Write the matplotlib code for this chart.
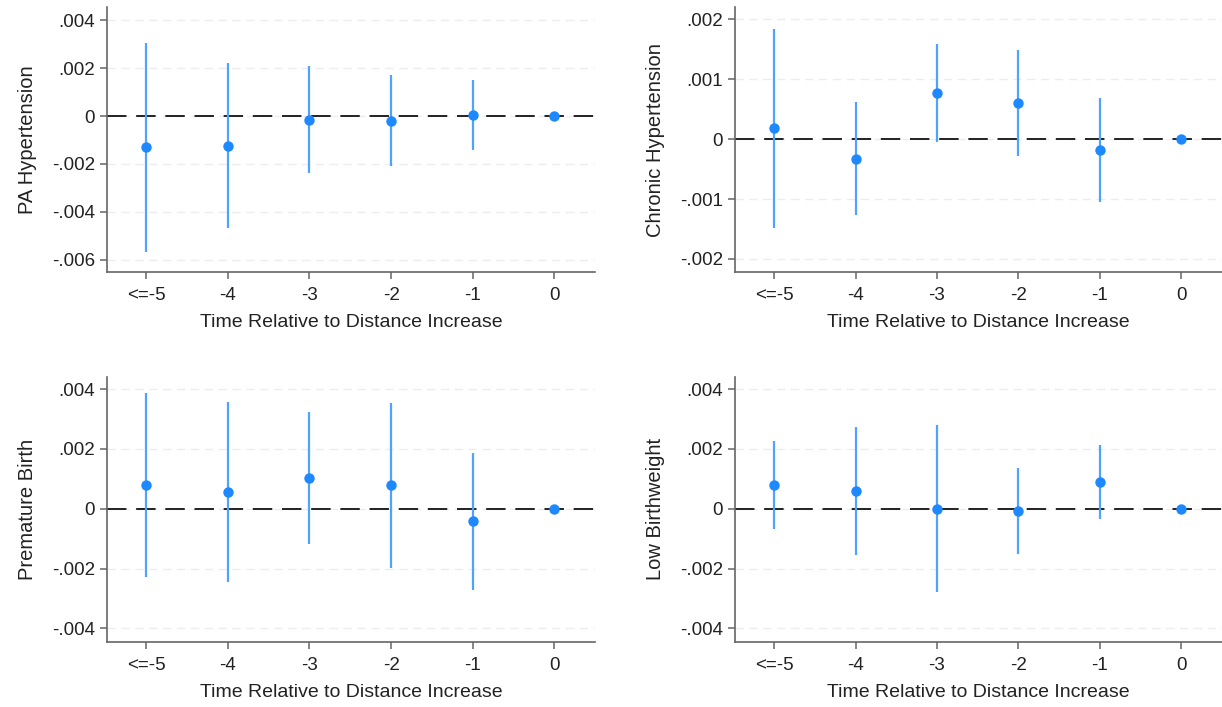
import numpy as np
import matplotlib.pyplot as plt

plt.rcParams['font.family'] = ['Liberation Sans', 'DejaVu Sans']

periods = [-5, -4, -3, -2, -1, 0]
period_labels = ['<=-5', '-4', '-3', '-2', '-1', '0']
xlabel = 'Time Relative to Distance Increase'

# event-study coefficients with 95% CI bounds (period 0 is the omitted reference)
pa_hyp = [-0.0013, -0.00126, -0.00015, -0.0002, 0.00005, 0.0]
pa_hyp_lo = [-0.0057, -0.0047, -0.0024, -0.0021, -0.0014]
pa_hyp_hi = [0.00305, 0.0022, 0.0021, 0.0017, 0.0015]

chronic_hyp = [0.00018, -0.00033, 0.00077, 0.0006, -0.00018, 0.0]
chronic_hyp_lo = [-0.00149, -0.00127, -0.00005, -0.00028, -0.00105]
chronic_hyp_hi = [0.00184, 0.00062, 0.00159, 0.00149, 0.00069]

premature = [0.0008, 0.00057, 0.00103, 0.00079, -0.00041, 0.0]
premature_lo = [-0.00227, -0.00243, -0.00116, -0.00197, -0.0027]
premature_hi = [0.00388, 0.00358, 0.00323, 0.00355, 0.00187]

low_bw = [0.00079, 0.00059, 0.0, -0.00009, 0.00089, 0.0]
low_bw_lo = [-0.00066, -0.00154, -0.00279, -0.0015, -0.00033]
low_bw_hi = [0.00226, 0.00274, 0.00279, 0.00135, 0.00212]

panels = [
    ('PA Hypertension', pa_hyp, pa_hyp_lo, pa_hyp_hi,
     [0.004, 0.002, 0, -0.002, -0.004, -0.006], (-0.00653, 0.00456),
     [0.0876, 0.615, 0.3994, 0.375]),
    ('Chronic Hypertension', chronic_hyp, chronic_hyp_lo, chronic_hyp_hi,
     [0.002, 0.001, 0, -0.001, -0.002], (-0.00222, 0.0022),
     [0.6015, 0.615, 0.3985, 0.375]),
    ('Premature Birth', premature, premature_lo, premature_hi,
     [0.004, 0.002, 0, -0.002, -0.004], (-0.00445, 0.00441),
     [0.0876, 0.092, 0.3994, 0.375]),
    ('Low Birthweight', low_bw, low_bw_lo, low_bw_hi,
     [0.004, 0.002, 0, -0.002, -0.004], (-0.00445, 0.00441),
     [0.6015, 0.092, 0.3985, 0.375]),
]


def fmt(v):
    if v == 0:
        return '0'
    return ('%.3f' % v).replace('0.', '.', 1)


fig = plt.figure(figsize=(12.22, 7.07), dpi=100)

for name, est, lo, hi, yticks, ylim, rect in panels:
    ax = fig.add_axes(rect)
    for t in yticks:
        ax.axhline(t, color='#ededed', lw=1, dashes=(6, 4), zorder=0)
    ax.axhline(0, color='#222222', lw=1.4, dashes=(10, 5), zorder=1)
    ax.vlines(periods[:-1], lo, hi, color='#4da3ff', lw=1.6, zorder=2)
    ax.plot(periods, est, 'o', color='#1e88ff', ms=7.5, mec='none', zorder=3)

    ax.set_xlim(-5.48, 0.5)
    ax.set_ylim(*ylim)
    ax.set_xticks(periods)
    ax.set_xticklabels(period_labels)
    ax.set_yticks(yticks)
    ax.set_yticklabels([fmt(v) for v in yticks])
    ax.set_xlabel(xlabel, fontsize=14, labelpad=7, color='#222222')
    ax.set_ylabel(name, fontsize=14.5, labelpad=11, color='#222222')

    for side in ['top', 'right']:
        ax.spines[side].set_visible(False)
    for side in ['left', 'bottom']:
        ax.spines[side].set_color('#666666')
        ax.spines[side].set_linewidth(1.2)
    ax.tick_params(axis='both', colors='#666666', labelcolor='#222222',
                   labelsize=13.5, length=5, width=1.1)
    ax.tick_params(axis='x', pad=6)

fig.savefig('out.png', dpi=100)
